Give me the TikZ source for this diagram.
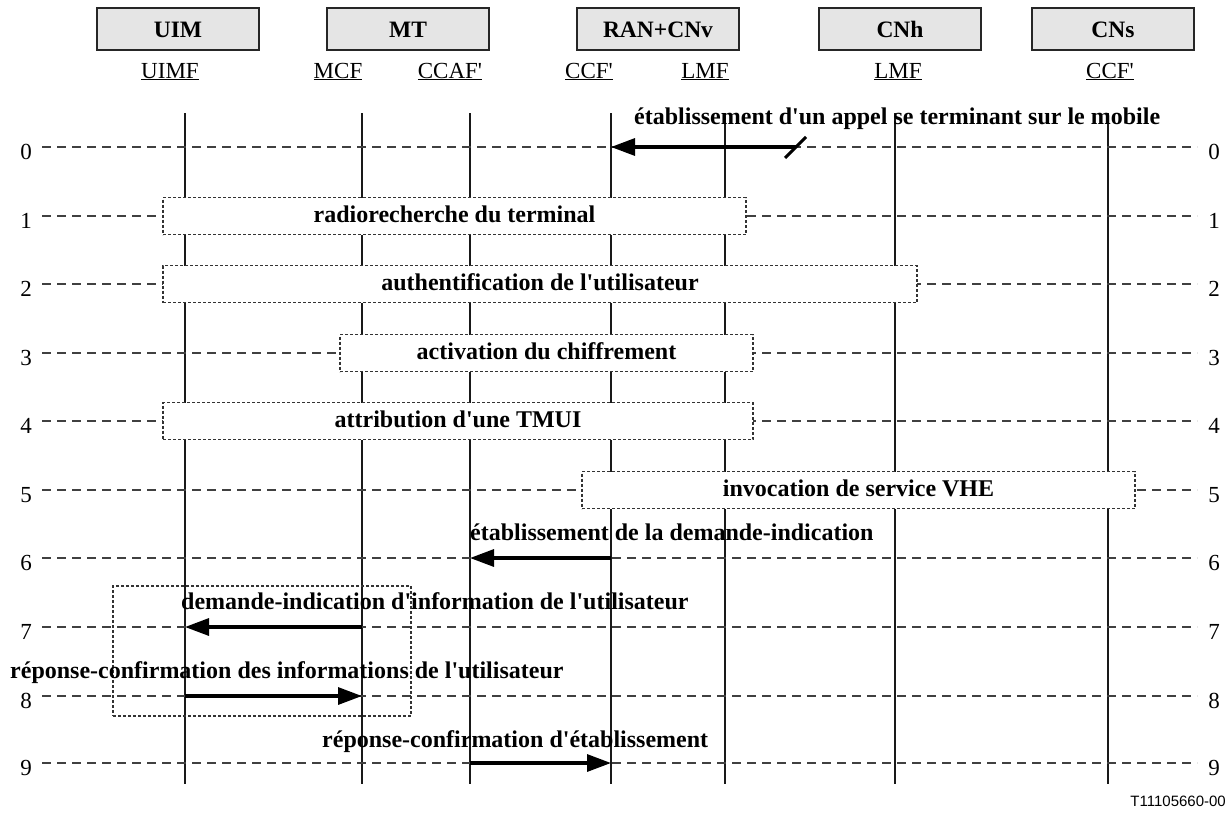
\documentclass[tikz,border=0pt]{standalone}
\usepackage{fontspec}
\setmainfont{Liberation Serif}[Ligatures=TeXOff]
\newfontfamily\refsans{Liberation Sans}
\usetikzlibrary{arrows.meta}

\begin{document}
\begin{tikzpicture}[x=1pt,y=-1pt,
  entity/.style={draw=black!85, fill=black!10, line width=1.2pt,
    minimum width=162pt, minimum height=42pt, inner sep=0pt,
    text height=16pt, text depth=0pt,
    font=\fontsize{23.5}{26}\selectfont\bfseries},
  fname/.style={anchor=base, inner sep=0pt, font=\fontsize{23}{26}\selectfont},
  life/.style={line width=1.2pt, draw=black!90},
  rowline/.style={draw=black!75, line width=1.2pt, dash pattern=on 9pt off 6pt},
  rownum/.style={inner sep=0pt, minimum width=12pt, font=\fontsize{23}{26}\selectfont},
  frame/.style={draw=black!80, line width=1.1pt, dash pattern=on 3pt off 2pt,
    fill=white, inner sep=0pt, minimum height=37pt,
    text height=16pt, text depth=3pt,
    font=\fontsize{24}{28}\selectfont\bfseries},
  msg/.style={line width=3.2pt, -{Triangle[length=24pt,width=17pt]}},
  mlabel/.style={inner sep=0pt, font=\fontsize{24}{28}\selectfont\bfseries},
]
\useasboundingbox[fill=white] (0,0) rectangle (1231,812);

% entities
\node[entity] (uim) at (178,29)  {UIM};
\node[entity] (mt)  at (408,29)  {MT};
\node[entity] (ran) at (658,29)  {RAN+CNv};
\node[entity] (cnh) at (900,29)  {CNh};
\node[entity] (cns) at (1113,29) {CNs};

% functional entities
\node[fname] (f1) at (170,78)  {\underline{UIMF}};
\node[fname] (f2) at (338,78)  {\underline{MCF}};
\node[fname] (f3) at (450,78)  {\underline{CCAF'}};
\node[fname] (f4) at (589,78)  {\underline{CCF'}};
\node[fname] (f5) at (705,78)  {\underline{LMF}};
\node[fname] (f6) at (898,78)  {\underline{LMF}};
\node[fname] (f7) at (1110,78) {\underline{CCF'}};

% lifelines
\foreach \i/\x in {1/185,2/362,3/470,4/611,5/725,6/895,7/1108}{
  \coordinate (L\i) at (\x,113);
  \coordinate (B\i) at (\x,784);
  \draw[life] (L\i) -- (B\i);
}

% step rows
\foreach \i/\y in {0/147,1/216,2/284,3/353,4/421,5/490,6/558,7/627,8/696,9/763}{
  \node[rownum] (nl\i) at (26,\y+5) {\i};
  \node[rownum] (nr\i) at (1214,\y+5) {\i};
  \coordinate (R\i) at (42,\y);
  \coordinate (S\i) at (1197,\y);
  \draw[rowline] (R\i) -- (S\i);
}

% grouped procedures
\node[frame, minimum width=583pt] (p1) at (454.5,216) {radiorecherche du terminal};
\node[frame, minimum width=754pt] (p2) at (540,284)   {authentification de l'utilisateur};
\node[frame, minimum width=413pt] (p3) at (546.5,353) {activation du chiffrement};
\node[frame, minimum width=590pt] (p4) at (458,421)   {attribution d'une TMUI};
\node[frame, minimum width=553pt] (p5) at (858.5,490) {invocation de service VHE};
\node[frame, fill=none, minimum width=298pt, minimum height=130pt] (p78) at (262,651) {};

% messages
\coordinate (cut) at (796,147);
\draw[msg] (cut) -- (L4 |- R0);
\draw[line width=3pt] ([shift={(-11,11)}]cut) -- ([shift={(10,-10)}]cut);
\node[mlabel, anchor=base west] (m0) at (634,124) {établissement d'un appel se terminant sur le mobile};

\draw[msg] (L4 |- R6) -- (L3 |- R6);
\node[mlabel, anchor=base west] (m6) at (470,540) {établissement de la demande-indication};

\draw[msg] (L2 |- R7) -- (L1 |- R7);
\node[mlabel, anchor=base west] (m7) at (181,609) {demande-indication d'information de l'utilisateur};

\draw[msg] (L1 |- R8) -- (L2 |- R8);
\node[mlabel, anchor=base west] (m8) at (10,678) {réponse-confirmation des informations de l'utilisateur};

\draw[msg] (L3 |- R9) -- (L4 |- R9);
\node[mlabel, anchor=base west] (m9) at (322,747) {réponse-confirmation d'établissement};

\node[anchor=base east, inner sep=0pt, font=\refsans\fontsize{15}{18}\selectfont] (ref) at (1226,806) {T11105660-00};
\end{tikzpicture}
\end{document}
